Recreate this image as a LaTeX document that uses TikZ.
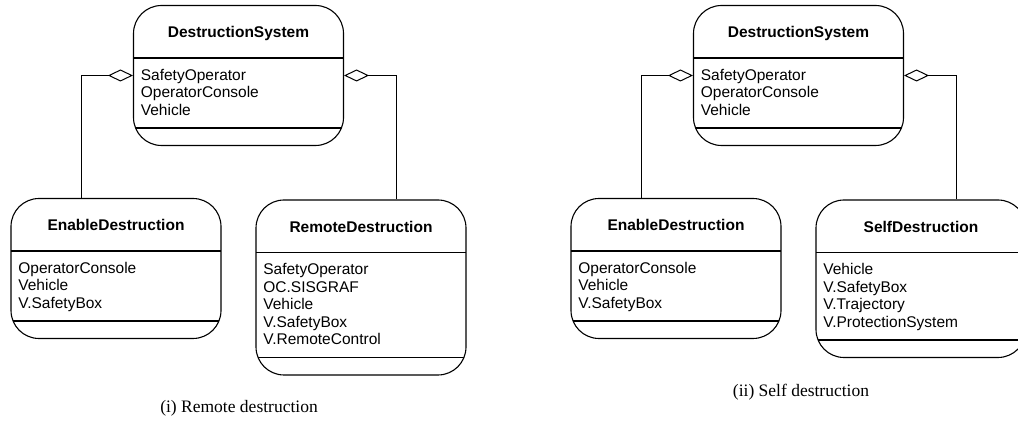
\documentclass[tikz,border=0pt]{standalone}
\usepackage{fontspec}
\setmainfont{Liberation Serif}
\setsansfont{Liberation Sans}
\usetikzlibrary{arrows.meta,positioning}

\begin{document}
\begin{tikzpicture}[
    x=0.5pt, y=-0.5pt,
    cls/.style={rectangle, draw=black, line width=0.55pt, rounded corners=14pt,
                minimum width=105pt, minimum height=#1, inner sep=0pt,
                path picture={
                  \draw[line width=0.55pt]
                    ([yshift=-26.25pt]path picture bounding box.north west) --
                    ([yshift=-26.25pt]path picture bounding box.north east);
                  \draw[line width=0.55pt]
                    ([yshift=8.75pt]path picture bounding box.south west) --
                    ([yshift=8.75pt]path picture bounding box.south east);
                }},
    ttl/.style={anchor=base, inner sep=0pt,
                font=\sffamily\bfseries\fontsize{7.75pt}{8.75pt}\selectfont},
    attr/.style={anchor=north west, align=left, inner sep=0pt,
                 font=\sffamily\fontsize{7.75pt}{8.75pt}\selectfont},
    agg/.style={line width=0.5pt, -{Diamond[open, length=12.5pt, width=6pt]}},
    capt/.style={anchor=base, inner sep=0pt, font=\fontsize{8.75pt}{10pt}\selectfont}
  ]
  \useasboundingbox (0,0) rectangle (1018,421);

  % (i) remote destruction
  \node[cls=70pt] (dsA) at (238.5,75.5) {};
  \node[ttl] (dsAt) at ([yshift=-16.5pt]dsA.north) {DestructionSystem};
  \node[attr] (dsAl) at ([xshift=3.75pt,yshift=-31.8pt]dsA.north west)
    {SafetyOperator\\OperatorConsole\\Vehicle};

  \node[cls=70pt] (enA) at (116,268.5) {};
  \node[ttl] (enAt) at ([yshift=-16.5pt]enA.north) {EnableDestruction};
  \node[attr] (enAl) at ([xshift=3.75pt,yshift=-31.8pt]enA.north west)
    {OperatorConsole\\Vehicle\\V.SafetyBox};

  \node[cls=87.5pt] (rd) at (361,287.5) {};
  \node[ttl] (rdt) at ([yshift=-16.5pt]rd.north) {RemoteDestruction};
  \node[attr] (rdl) at ([xshift=3.75pt,yshift=-31.8pt]rd.north west)
    {SafetyOperator\\OC.SISGRAF\\Vehicle\\V.SafetyBox\\V.RemoteControl};

  \draw[agg] ([xshift=-17.5pt]enA.north) |- (dsA.west);
  \draw[agg] ([xshift=17.5pt]rd.north) |- (dsA.east);

  \node[capt] (capA) at (239,413) {(i) Remote destruction};

  % (ii) self destruction
  \node[cls=70pt] (dsB) at (798.5,75.5) {};
  \node[ttl] (dsBt) at ([yshift=-16.5pt]dsB.north) {DestructionSystem};
  \node[attr] (dsBl) at ([xshift=3.75pt,yshift=-31.8pt]dsB.north west)
    {SafetyOperator\\OperatorConsole\\Vehicle};

  \node[cls=70pt] (enB) at (676,268.5) {};
  \node[ttl] (enBt) at ([yshift=-16.5pt]enB.north) {EnableDestruction};
  \node[attr] (enBl) at ([xshift=3.75pt,yshift=-31.8pt]enB.north west)
    {OperatorConsole\\Vehicle\\V.SafetyBox};

  \node[cls=78.75pt] (sd) at (921,278.75) {};
  \node[ttl] (sdt) at ([yshift=-16.5pt]sd.north) {SelfDestruction};
  \node[attr] (sdl) at ([xshift=3.75pt,yshift=-31.8pt]sd.north west)
    {Vehicle\\V.SafetyBox\\V.Trajectory\\V.ProtectionSystem};

  \draw[agg] ([xshift=-17.5pt]enB.north) |- (dsB.west);
  \draw[agg] ([xshift=17.5pt]sd.north) |- (dsB.east);

  \node[capt] (capB) at (801,397) {(ii) Self destruction};
\end{tikzpicture}
\end{document}
